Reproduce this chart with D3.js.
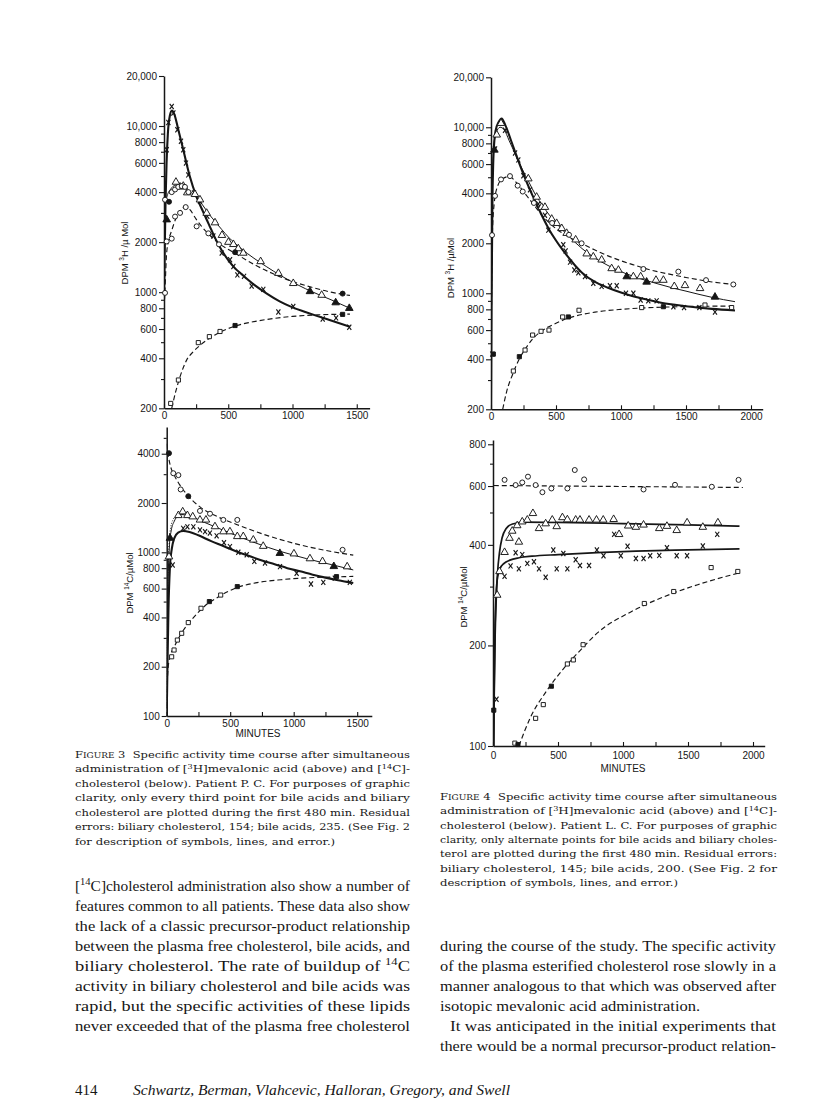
<!DOCTYPE html>
<html><head><meta charset="utf-8">
<script src="https://cdn.jsdelivr.net/npm/d3@7"></script>
<style>body{margin:0;background:#fff}svg{display:block}</style>
</head><body>
<svg id="page" width="816" height="1117"></svg>
<script>
// ---------------- DATA ----------------
// Panel A : Fig 3 top  (3H, patient P.C.)
const aTimeTicks = [0,250,500,750,1000,1250,1500];
const aTimeLabels = [0,500,1000,1500];
const aValueLabels = [200,400,600,800,1000,2000,4000,6000,8000,10000,20000];
const aValueMinor = [300,500,700,900,3000,5000,7000,9000];
const aXMarks = [[21,7200],[34,10500],[60,13100],[73,11970],[104,9500],[132,8100],[150,7200],[171,5980],[189,5080],[233,3950],[280,3520],[337,2860],[384,2180],[449,1718],[514,1566],[540,1427],[571,1270],[623,1245],[682,1090],[773,1040],[890,760],[1006,819],[1235,690],[1339,700],[1442,615]];
const aXCurve = [[0,900],[5,1600],[12,3500],[20,6000],[30,9000],[45,11500],[62,12400],[80,11800],[110,9600],[150,7200],[200,5000],[250,3800],[300,3100],[350,2550],[400,2100],[450,1780],[500,1560],[550,1400],[600,1290],[700,1110],[800,980],[900,880],[1000,810],[1100,760],[1200,715],[1300,675],[1447,620]];
const aTriOpen = [[93,4600],[125,4300],[150,4350],[181,3970],[241,3880],[280,3600],[332,2990],[397,2620],[451,2200],[501,2000],[540,1940],[578,1830],[617,1720],[752,1530],[890,1300],[1006,1130],[1227,960]];
const aTriFilled = [[21,2730],[1136,1010],[1336,865],[1442,800]];
const aCircTop = [[8,3600],[60,4000],[86,4150],[111,4300],[138,4350],[163,4300],[190,4000]];
const aCircTopFilled = [[39,3500]];
const aTriCurve = [[0,900],[4,2200],[10,3300],[25,3800],[50,4150],[90,4400],[130,4400],[180,4150],[240,3800],[300,3350],[350,2950],[400,2650],[450,2380],[500,2150],[600,1830],[700,1600],[800,1420],[900,1270],[1000,1150],[1100,1050],[1200,970],[1300,900],[1447,800]];
const aCircOpen = [[8,990],[21,2020],[60,2100],[86,2850],[125,3000],[169,3250],[254,2490],[345,2260],[428,1940]];
const aCircFilled = [[553,1740],[1390,980]];
const aCircCurve = [[0,800],[8,1050],[20,1700],[40,2100],[60,2350],[90,2750],[130,3100],[165,3280],[200,3150],[250,2750],[300,2450],[350,2230],[430,1960],[550,1720],[700,1470],[850,1290],[1000,1160],[1150,1070],[1300,1000],[1447,955]];
const aSqOpen = [[52,214],[112,296],[267,497],[353,540],[436,580]];
const aSqFilled = [[553,630],[1390,735]];
const aSqCurve = [[60,200],[90,250],[125,310],[176,390],[230,440],[280,478],[350,525],[410,560],[540,620],[700,665],[800,685],[1000,715],[1200,730],[1447,738]];

// Panel B : Fig 3 bottom (14C, patient P.C.)
const bTimeTicks = [0,250,500,750,1000,1250,1500];
const bTimeLabels = [0,500,1000,1500];
const bValueLabels = [100,200,400,600,800,1000,2000,4000];
const bValueMinor = [300,500,700,900,3000,5000];
const bCircOpen = [[52,3040],[92,2960],[110,2420],[262,1790],[341,1720],[446,1577],[556,1577],[1385,1035]];
const bCircFilled = [[18,4030],[170,2200]];
const bCircCurve = [[0,4600],[15,3800],[30,3350],[60,2950],[100,2600],[160,2250],[260,1900],[400,1650],[550,1480],[800,1260],[1050,1110],[1300,1010],[1469,960]];
const bTriOpen = [[18,940],[92,1680],[126,1770],[163,1680],[205,1650],[262,1577],[309,1577],[380,1436],[446,1337],[498,1337],[556,1250],[603,1250],[682,1190],[760,1090],[1002,980],[1128,915],[1227,880],[1421,817]];
const bTriFilled = [[26,1220],[891,986],[1316,820]];
const bTriCurve = [[0,110],[5,300],[12,700],[20,1050],[35,1350],[60,1550],[90,1670],[120,1700],[160,1680],[220,1620],[300,1520],[400,1410],[500,1310],[600,1220],[700,1140],[800,1070],[900,1010],[1000,960],[1100,915],[1200,875],[1300,840],[1469,780]];
const bDotCurve = [[0,100],[4,300],[10,700],[18,1100],[30,1400],[50,1580],[80,1680],[110,1720]];
const bXMarks = [[47,836],[130,1400],[163,1430],[210,1430],[262,1370],[302,1337],[340,1310],[393,1260],[451,1144],[498,1083],[564,1000],[630,965],[690,880],[774,860],[892,817],[1023,744],[1136,640],[1233,655],[1324,695],[1442,655]];
const bXCurve = [[0,100],[6,200],[14,450],[25,800],[40,1050],[60,1220],[90,1320],[130,1350],[180,1330],[250,1270],[350,1170],[450,1090],[550,1010],[650,950],[750,890],[850,845],[950,800],[1050,765],[1150,730],[1250,700],[1350,675],[1469,650]];
const bSqOpen = [[39,230],[58,253],[84,291],[118,320],[170,372],[270,455],[425,548]];
const bSqFilled = [[336,500],[556,617],[1337,710]];
const bSqCurve = [[0,100],[4,150],[12,200],[30,235],[60,265],[100,305],[150,350],[200,390],[300,470],[400,530],[556,610],[700,650],[900,680],[1100,698],[1300,706],[1469,712]];

// Panel C : Fig 4 top (3H, patient L.C.)
const cTimeTicks = [0,250,500,750,1000,1250,1500,1750,2000];
const cTimeLabels = [0,500,1000,1500,2000];
const cValueLabels = [200,400,600,800,1000,2000,4000,6000,8000,10000,20000];
const cValueMinor = [300,500,700,900,3000,5000,7000,9000];
const cXMarks = [[10,430],[31,7400],[108,9600],[185,7000],[210,6360],[249,5100],[300,4200],[364,3450],[415,2950],[441,2400],[556,1960],[574,1800],[608,1540],[641,1380],[672,1330],[723,1260],[787,1150],[851,1100],[915,1110],[967,1110],[1038,1000],[1095,1000],[1151,910],[1210,900],[1274,900],[1403,830],[1485,820],[1603,820],[1723,770]];
const cXCurve = [[0,200],[4,800],[10,3000],[20,7000],[35,9500],[60,10800],[82,11300],[110,10300],[150,8500],[200,6600],[250,5200],[300,4200],[350,3450],[400,2850],[450,2400],[500,2080],[550,1830],[600,1630],[650,1460],[700,1330],[800,1170],[900,1080],[1000,1010],[1100,955],[1200,915],[1300,880],[1400,855],[1500,835],[1600,818],[1700,805],[1877,788]];
const cTriOpen = [[44,9000],[77,10570],[287,4900],[351,3800],[390,3300],[415,3300],[467,2800],[505,2640],[544,2460],[582,2300],[651,2100],[736,1730],[787,1660],[851,1590],[928,1410],[980,1380],[1095,1260],[1151,1260],[1269,1200],[1326,1200],[1410,1100],[1492,1115],[1608,1070]];
const cTriFilled = [[26,7300],[1044,1260],[1197,1170],[1723,950]];
const cTriCurve = [[0,200],[4,1000],[10,4000],[20,7500],[40,9300],[70,10000],[100,9700],[140,8300],[190,6800],[240,5600],[290,4700],[340,3950],[400,3350],[450,2950],[500,2650],[600,2200],[700,1860],[800,1630],[900,1470],[1000,1350],[1100,1260],[1200,1190],[1300,1130],[1400,1075],[1500,1030],[1600,985],[1700,945],[1877,890]];
const cCircOpen = [[8,2240],[31,3860],[77,4850],[146,5080],[205,4450],[244,4100],[330,3500],[470,2650],[600,2250],[697,2000],[1172,1400],[1441,1350],[1654,1200],[1864,1130]];
const cCircCurve = [[0,200],[4,900],[10,2200],[25,3500],[50,4400],[90,4900],[140,5050],[200,4600],[250,4100],[300,3650],[350,3250],[400,2900],[450,2650],[500,2450],[600,2180],[700,1990],[800,1820],[900,1680],[1000,1570],[1100,1480],[1200,1400],[1300,1340],[1400,1290],[1500,1245],[1600,1205],[1700,1170],[1877,1130]];
const cSqOpen = [[172,340],[262,455],[320,560],[385,590],[446,600],[551,720],[677,790],[1159,820],[1646,850],[1851,820]];
const cSqFilled = [[18,430],[218,415],[595,720],[1326,830]];
const cSqCurve = [[90,200],[120,255],[170,330],[220,405],[270,470],[320,530],[400,600],[500,660],[600,710],[700,745],[800,770],[1000,800],[1200,818],[1400,828],[1600,834],[1877,838]];

// Panel D : Fig 4 bottom (14C, patient L.C.)
const dTimeTicks = [0,250,500,750,1000,1250,1500,1750,2000];
const dTimeLabels = [0,500,1000,1500,2000];
const dValueLabels = [100,200,400,600,800];
const dValueMinor = [300,500,700];
const dCircOpen = [[89,626],[174,604],[225,615],[269,640],[328,604],[380,575],[449,590],[572,590],[629,670],[701,628],[1158,586],[1400,605],[1683,597],[1889,626]];
const dCircCurve = [[6,602],[500,600],[1000,598],[1500,596],[1922,594]];
const dTriOpen = [[32,283],[50,333],[89,380],[127,419],[148,440],[186,457],[199,408],[225,469],[264,475],[307,497],[354,448],[405,463],[456,475],[490,454],[534,483],[572,476],[636,475],[669,475],[739,475],[796,475],[848,475],[928,477],[970,430],[1040,456],[1099,452],[1158,459],[1279,448],[1338,455],[1413,442],[1493,466],[1614,452],[1730,466]];
const dTriCurve = [[5,100],[10,150],[16,210],[24,270],[35,330],[50,380],[70,420],[100,447],[150,462],[250,468],[500,467],[1000,463],[1500,459],[1896,455]];
const dXMarks = [[27,138],[89,322],[135,346],[174,379],[199,339],[225,374],[264,352],[315,356],[354,339],[405,320],[464,386],[490,339],[541,377],[572,339],[636,361],[669,347],[739,347],[799,386],[850,371],[932,430],[983,371],[1035,396],[1099,364],[1158,364],[1209,371],[1279,372],[1338,392],[1413,371],[1493,371],[1614,397],[1725,430]];
const dXCurve = [[5,100],[10,160],[16,230],[24,285],[35,320],[55,340],[85,352],[130,360],[200,366],[300,370],[500,374],[800,379],[1100,383],[1400,386],[1896,389]];
const dSqOpen = [[168,102],[328,121],[387,133],[572,176],[618,181],[693,201],[1164,267],[1390,290],[1678,342],[1883,333]];
const dSqFilled = [[6,128],[192,101],[449,151]];
const dSqCurve = [[199,100],[289,122],[417,147],[546,171],[675,194],[803,218],[1060,252],[1318,280],[1575,304],[1896,330]];

// Text
const cap3Lines = [
 "F{IGURE} 3  Specific activity time course after simultaneous",
 "administration of [^3^H]mevalonic acid (above) and [^14^C]-",
 "cholesterol (below). Patient P. C. For purposes of graphic",
 "clarity, only every third point for bile acids and biliary",
 "cholesterol are plotted during the first 480 min. Residual",
 "errors: biliary cholesterol, 154; bile acids, 235. (See Fig. 2",
 "for description of symbols, lines, and error.)"];
const cap4Lines = [
 "F{IGURE} 4  Specific activity time course after simultaneous",
 "administration of [^3^H]mevalonic acid (above) and [^14^C]-",
 "cholesterol (below). Patient L. C. For purposes of graphic",
 "clarity, only alternate points for bile acids and biliary choles-",
 "terol are plotted during the first 480 min. Residual errors:",
 "biliary cholesterol, 145; bile acids, 200. (See Fig. 2 for",
 "description of symbols, lines, and error.)"];
const bodyLeft = [
 "[^14^C]cholesterol administration also show a number of",
 "features common to all patients. These data also show",
 "the lack of a classic precursor-product relationship",
 "between the plasma free cholesterol, bile acids, and",
 "biliary cholesterol. The rate of buildup of ^14^C",
 "activity in biliary cholesterol and bile acids was",
 "rapid, but the specific activities of these lipids",
 "never exceeded that of the plasma free cholesterol"];
const bodyRight = [
 "during the course of the study. The specific activity",
 "of the plasma esterified cholesterol rose slowly in a",
 "manner analogous to that which was observed after",
 "isotopic mevalonic acid administration.",
 "It was anticipated in the initial experiments that",
 "there would be a normal precursor-product relation-"];

// ---------------- DRAWING ----------------
const svg = d3.select("#page");
svg.append("rect").attr("width",816).attr("height",1117).attr("fill","#fff");
const INK = "#161616";
const SANS = "'Liberation Sans', Arial, sans-serif";

function fmtVal(v){ return v >= 10000 ? d3.format(",")(v) : String(v); }

function addRich(t, str, size){
  const parts = str.split(/(\^[^^]*\^|\{[^}]*\})/);
  let shifted = 0;
  parts.forEach(p=>{
    if(!p) return;
    if(p[0]==='^'){
      t.append("tspan").attr("font-size", size*0.68).attr("dy", -size*0.38).text(p.slice(1,-1));
      shifted = size*0.38;
    } else {
      const s = t.append("tspan");
      if(shifted){ s.attr("dy", shifted); shifted = 0; }
      if(p[0]==='{') s.attr("font-size", size*0.78).text(p.slice(1,-1));
      else s.text(p);
    }
  });
}

function textBlock(lines, x, y0, dy, width, family, size, noJustify, indent){
  const nodes = [];
  lines.forEach((ln,i)=>{
    const ix = (indent && indent[i]) ? indent[i] : 0;
    const t = svg.append("text").attr("x", x+ix).attr("y", y0+i*dy)
      .attr("font-family", family).attr("font-size", size).attr("fill", INK)
      .attr("xml:space","preserve");
    addRich(t, ln, size);
    nodes.push({t, w: width-ix, nat: t.node().getComputedTextLength(), just: !noJustify.includes(i)});
  });
  const js = nodes.filter(n=>n.just);
  const r = js.length ? d3.mean(js, n=>n.w/n.nat) : 1;
  nodes.forEach(n=>{
    const L = n.just ? n.w : n.nat*r;
    n.t.attr("textLength", L).attr("lengthAdjust","spacingAndGlyphs");
  });
}

function panel(cfg){
  const x = d3.scaleLinear().domain(cfg.xDom).range(cfg.xRange);
  const y = d3.scaleLog().domain(cfg.yDom).range(cfg.yRange);
  const g = svg.append("g");
  const clipId = "clip"+cfg.id;
  svg.append("clipPath").attr("id",clipId).append("rect")
    .attr("x", cfg.xRange[0]).attr("y", cfg.yRange[1]-20)
    .attr("width", cfg.xRange[1]-cfg.xRange[0]).attr("height", cfg.yRange[0]-cfg.yRange[1]+20);
  const cg = g.append("g").attr("clip-path",`url(#${clipId})`);
  const line = d3.line().x(d=>x(d[0])).y(d=>y(d[1])).curve(d3.curveMonotoneX);
  const styles = {
    heavy:{w:2.1,dash:null}, thin:{w:1.0,dash:null}, mid:{w:1.7,dash:null},
    dashed:{w:1.15,dash:"5,3"}, dotted:{w:1.0,dash:"1,1.6"}
  };
  cfg.curves.forEach(c=>{
    const s = styles[c.style];
    cg.append("path").attr("d", line(c.data)).attr("fill","none")
      .attr("stroke",INK).attr("stroke-width",s.w)
      .attr("stroke-dasharray",s.dash).attr("stroke-linejoin","round");
  });
  // axes
  const yAx = g.append("g").attr("transform",`translate(${cfg.xRange[0]},0)`)
    .call(d3.axisLeft(y).tickValues(cfg.yLabels).tickFormat(fmtVal).tickSize(5).tickSizeOuter(0).tickPadding(2));
  const yMin = g.append("g").attr("transform",`translate(${cfg.xRange[0]},0)`)
    .call(d3.axisLeft(y).tickValues(cfg.yMinor).tickFormat("").tickSize(3));
  yMin.select(".domain").remove();
  const xAx = g.append("g").attr("transform",`translate(0,${cfg.yRange[0]})`)
    .call(d3.axisBottom(x).tickValues(cfg.xTicks).tickFormat(d=>cfg.xLabels.includes(d)?d:"")
      .tickSize(-4).tickSizeOuter(0).tickPadding(cfg.xPad));
  [yAx,yMin,xAx].forEach(a=>{
    a.selectAll("path,line").attr("stroke",INK);
    a.select(".domain").attr("stroke-width",1.5);
    a.selectAll(".tick line").attr("stroke-width",1.1);
    a.selectAll("text").attr("font-family",SANS)
      .attr("font-size",10).attr("fill",INK);
  });
  // marks
  const mg = g.append("g");
  const tri = d3.symbol().type(d3.symbolTriangle).size(25)();
  const sq = d3.symbol().type(d3.symbolSquare).size(17)();
  cfg.marks.forEach(m=>{
    m.data.forEach(d=>{
      const px = x(d[0]), py = y(d[1]);
      if(py > cfg.yRange[0]+2) return;
      const fill = m.filled ? INK : "#fff";
      if(m.sym==="circle"){
        mg.append("circle").attr("cx",px).attr("cy",py).attr("r",2.5)
          .attr("fill",fill).attr("stroke",INK).attr("stroke-width",0.95);
      } else if(m.sym==="triangle"){
        mg.append("path").attr("d",tri).attr("transform",`translate(${px},${py})`)
          .attr("fill",fill).attr("stroke",INK).attr("stroke-width",0.95);
      } else if(m.sym==="square"){
        mg.append("path").attr("d",sq).attr("transform",`translate(${px},${py})`)
          .attr("fill",fill).attr("stroke",INK).attr("stroke-width",0.95);
      } else if(m.sym==="x"){
        mg.append("path").attr("d","M-2,-2.6L2,2.6M2,-2.6L-2,2.6")
          .attr("transform",`translate(${px},${py})`)
          .attr("fill","none").attr("stroke",INK).attr("stroke-width",1.15);
      }
    });
  });
  // y title
  const tt = svg.append("text").attr("transform",`translate(${cfg.title.x},${cfg.title.y}) rotate(-90)`)
    .attr("text-anchor","middle").attr("font-family",SANS)
    .attr("font-size",9.5).attr("fill",INK);
  addRich(tt, cfg.title.text, 9.5);
  if(cfg.minutes){
    svg.append("text").attr("x",cfg.minutes.x).attr("y",cfg.minutes.y).attr("text-anchor","middle")
      .attr("font-family",SANS).attr("font-size",10)
      .attr("fill",INK).text("MINUTES");
  }
}

panel({id:"A", xDom:[0,1600], xRange:[164,369.6], yDom:[200,20000], yRange:[408.3,76],
  xTicks:aTimeTicks, xLabels:aTimeLabels, yLabels:aValueLabels, yMinor:aValueMinor, xPad:4,
  title:{x:128,y:253,text:"DPM ^3^H /\u00b5 Mol"},
  curves:[{data:aXCurve,style:"heavy"},{data:aTriCurve,style:"thin"},{data:aCircCurve,style:"dashed"},{data:aSqCurve,style:"dashed"}],
  marks:[{data:aXMarks,sym:"x"},{data:aTriOpen,sym:"triangle"},{data:aTriFilled,sym:"triangle",filled:true},
    {data:aCircTop,sym:"circle"},{data:aCircTopFilled,sym:"circle",filled:true},
    {data:aCircOpen,sym:"circle"},{data:aCircFilled,sym:"circle",filled:true},
    {data:aSqOpen,sym:"square"},{data:aSqFilled,sym:"square",filled:true}]});

panel({id:"B", xDom:[0,1615], xRange:[166.7,371.8], yDom:[100,5825], yRange:[716,427],
  xTicks:bTimeTicks, xLabels:bTimeLabels, yLabels:bValueLabels, yMinor:bValueMinor, xPad:4,
  title:{x:133,y:583,text:"DPM ^14^C/\u00b5Mol"}, minutes:{x:258,y:737},
  curves:[{data:bXCurve,style:"heavy"},{data:bTriCurve,style:"thin"},{data:bDotCurve,style:"dotted"},{data:bCircCurve,style:"dashed"},{data:bSqCurve,style:"dashed"}],
  marks:[{data:bXMarks,sym:"x"},{data:bTriOpen,sym:"triangle"},{data:bTriFilled,sym:"triangle",filled:true},
    {data:bCircOpen,sym:"circle"},{data:bCircFilled,sym:"circle",filled:true},
    {data:bSqOpen,sym:"square"},{data:bSqFilled,sym:"square",filled:true}]});

panel({id:"C", xDom:[0,2090], xRange:[491,762.7], yDom:[200,20000], yRange:[409.3,77.3],
  xTicks:cTimeTicks, xLabels:cTimeLabels, yLabels:cValueLabels, yMinor:cValueMinor, xPad:4,
  title:{x:454,y:268,text:"DPM ^3^H /\u00b5Mol"},
  curves:[{data:cXCurve,style:"heavy"},{data:cTriCurve,style:"thin"},{data:cCircCurve,style:"dashed"},{data:cSqCurve,style:"dashed"}],
  marks:[{data:cXMarks,sym:"x"},{data:cTriOpen,sym:"triangle"},{data:cTriFilled,sym:"triangle",filled:true},
    {data:cCircOpen,sym:"circle"},{data:cSqOpen,sym:"square"},{data:cSqFilled,sym:"square",filled:true}]});

panel({id:"D", xDom:[0,2090], xRange:[493,764.7], yDom:[100,824], yRange:[746,440],
  xTicks:dTimeTicks, xLabels:dTimeLabels, yLabels:dValueLabels, yMinor:dValueMinor, xPad:6,
  title:{x:467,y:597,text:"DPM ^14^C/\u00b5Mol"}, minutes:{x:623,y:772},
  curves:[{data:dXCurve,style:"mid"},{data:dTriCurve,style:"mid"},{data:dCircCurve,style:"dashed"},{data:dSqCurve,style:"dashed"}],
  marks:[{data:dXMarks,sym:"x"},{data:dTriOpen,sym:"triangle"},{data:dCircOpen,sym:"circle"},
    {data:dSqOpen,sym:"square"},{data:dSqFilled,sym:"square",filled:true}]});

// captions and body text
const SERIF = "'DejaVu Serif', serif";
const BODY = "'Liberation Serif', 'Times New Roman', serif";
textBlock(cap3Lines, 75, 758, 14.45, 335, SERIF, 10, [6]);
textBlock(cap4Lines, 440, 800, 14.3, 337, SERIF, 10, [6]);
textBlock(bodyLeft, 75, 890.5, 20, 335, BODY, 14.3, []);
textBlock(bodyRight, 440, 950.5, 20, 336, BODY, 14.3, [3], [0,0,0,0,10,0]);
svg.append("text").attr("x",75).attr("y",1095).attr("font-family",BODY).attr("font-size",15).attr("fill",INK).text("414");
svg.append("text").attr("x",133).attr("y",1095).attr("font-family",BODY).attr("font-style","italic")
  .attr("font-size",15).attr("fill",INK).attr("textLength",377).attr("lengthAdjust","spacingAndGlyphs")
  .text("Schwartz, Berman, Vlahcevic, Halloran, Gregory, and Swell");
</script>
</body></html>
